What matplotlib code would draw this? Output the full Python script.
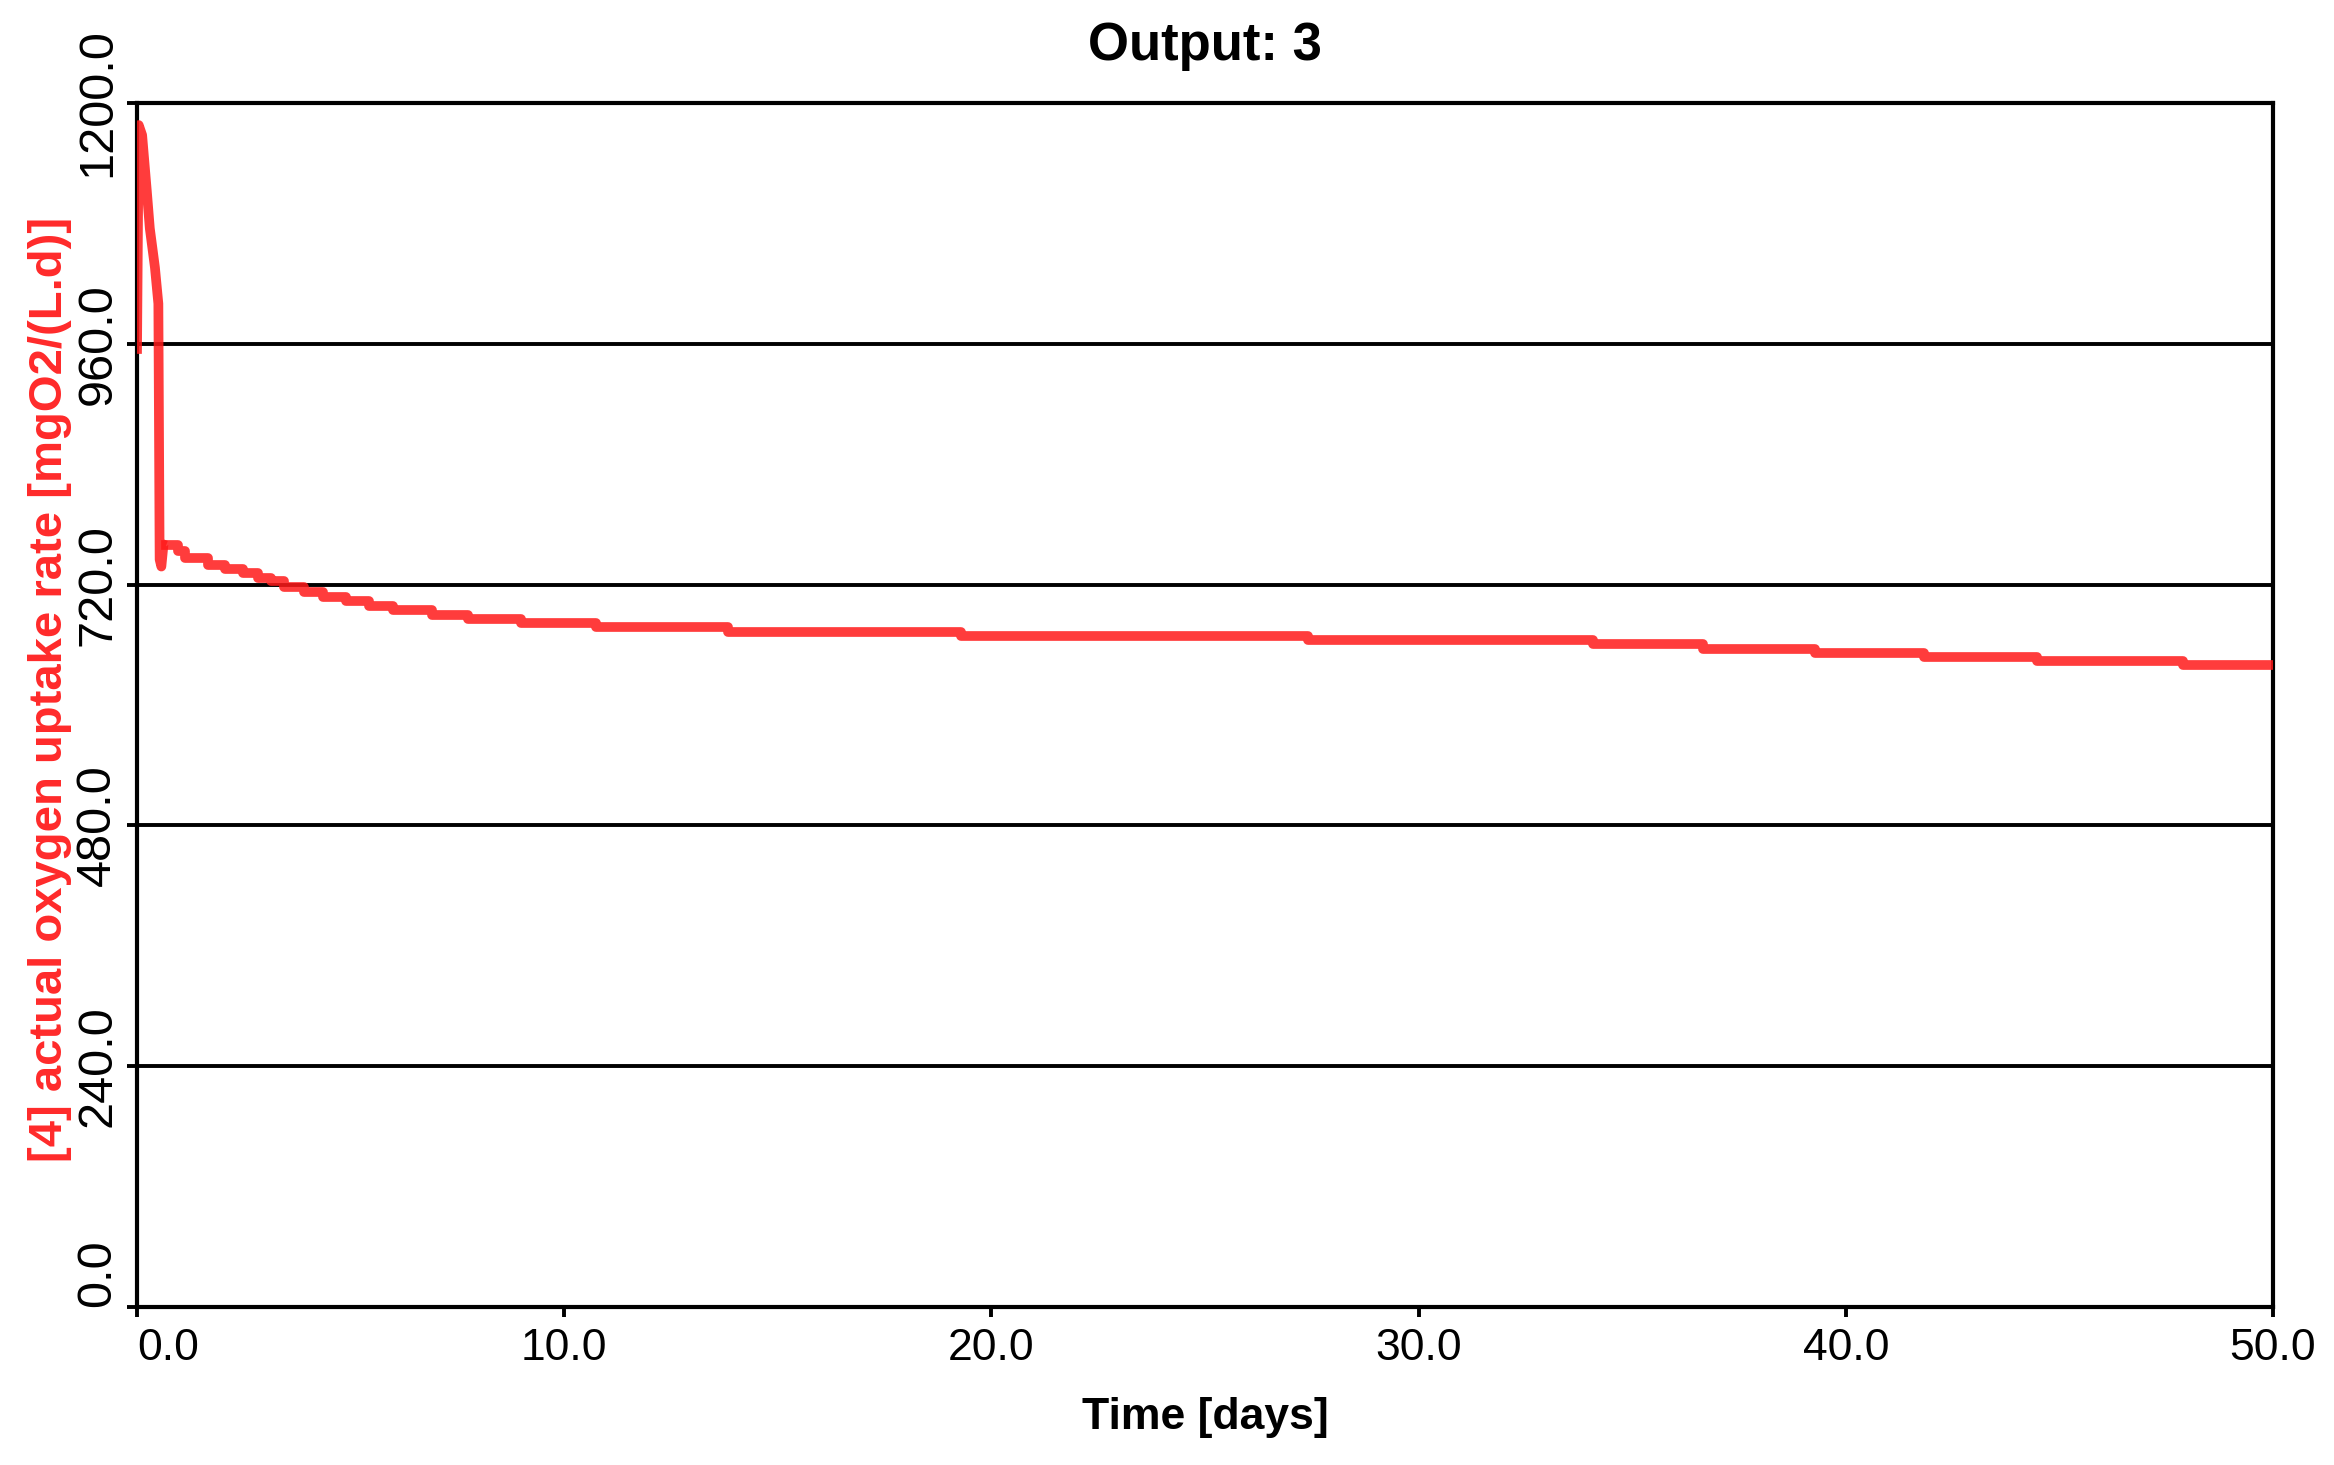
import matplotlib
matplotlib.use("Agg")
import matplotlib.pyplot as plt

OUTPUT_IMAGE = "out.png"

# early spike (days, mgO2/(L.d))
spike_days = [0.0, 0.04, 0.12, 0.23, 0.30, 0.42, 0.50, 0.53, 0.57, 0.62, 0.68]
spike_rate = [950, 1178, 1168, 1112, 1075, 1036, 1000, 745, 738, 760, 759]

# stepped tail after the spike
step_days = [0.68, 0.95, 1.12, 1.66, 2.06, 2.47, 2.83, 3.14, 3.45, 3.90, 4.35,
             4.89, 5.42, 6.00, 6.90, 7.75, 9.00, 10.75, 13.84, 19.30, 27.40,
             34.09, 36.66, 39.28, 41.84, 44.47, 47.90, 50.0]
step_rate = [759, 753, 747, 740, 736, 732, 727, 724, 718, 713, 708,
             704, 699, 695, 690, 686, 682, 678, 673, 669, 665,
             661, 656, 652, 648, 644, 640, 640]

x_ticks = [0, 10, 20, 30, 40, 50]
y_ticks = [0, 240, 480, 720, 960, 1200]


def main():
    plt.rcParams['font.family'] = ['Liberation Sans', 'DejaVu Sans']

    fig = plt.figure(figsize=(23.34, 14.65), dpi=100)
    ax = fig.add_axes([137 / 2334, 1 - 1307 / 1465, (2273 - 137) / 2334, (1307 - 103) / 1465])

    # horizontal grid lines
    for y in y_ticks[1:-1]:
        ax.axhline(y, color='black', linewidth=2.8, zorder=1)

    line_color = '#ff1a1a'
    ax.plot(spike_days, spike_rate, color=line_color, alpha=0.85,
            linewidth=7, solid_joinstyle='round', solid_capstyle='butt', zorder=3)
    ax.plot(step_days, step_rate, color=line_color, alpha=0.85,
            linewidth=7, drawstyle='steps-post', zorder=3)

    ax.set_xlim(0, 50)
    ax.set_ylim(0, 1200)

    ax.set_xticks(x_ticks)
    ax.set_xticklabels([f"{v:.1f}" for v in x_ticks])
    ax.set_yticks(y_ticks)
    ax.set_yticklabels([f"{v:.1f}" for v in y_ticks], rotation=90, va='center')

    ax.tick_params(axis='both', direction='out', length=7, width=2.8, colors='black')
    ax.tick_params(axis='x', pad=8, labelsize=32)
    ax.tick_params(axis='y', pad=5, labelsize=35)

    # the first labels sit beside the origin, not centred on it
    ax.get_xticklabels()[0].set_ha('left')
    ax.get_yticklabels()[0].set_va('bottom')

    for spine in ax.spines.values():
        spine.set_linewidth(3)
        spine.set_color('black')

    ax.set_title("Output: 3", fontsize=38, fontweight='bold', pad=31)
    ax.set_xlabel("Time [days]", fontsize=32, fontweight='bold', labelpad=20)
    ax.set_ylabel("[4] actual oxygen uptake rate [mgO2/(L.d)]", fontsize=34,
                  fontweight='bold', color='#ff2a2a', va='center')
    ax.yaxis.set_label_coords(-0.0405, 0.513)

    fig.savefig(OUTPUT_IMAGE, dpi=100, facecolor='white')
    print(f"Plot saved to {OUTPUT_IMAGE}")


if __name__ == "__main__":
    main()
